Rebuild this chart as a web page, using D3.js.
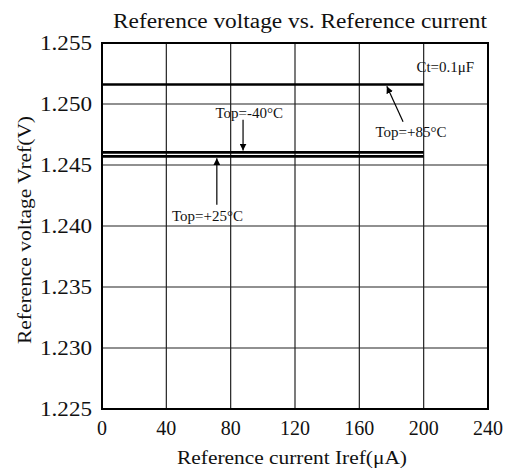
<!DOCTYPE html>
<html>
<head>
<meta charset="utf-8">
<script src="https://cdn.jsdelivr.net/npm/d3@7"></script>
<style>
  body { margin: 0; background: #fff; }
  text { font-family: "Liberation Serif", "Times New Roman", serif; fill: #111; }
</style>
</head>
<body>
<svg id="chart"></svg>
<script>
// Data
const xTicks = [0, 40, 80, 120, 160, 200, 240];
const yTicks = [1.225, 1.230, 1.235, 1.240, 1.245, 1.250, 1.255];
const currents = [0, 200];
const vTop85 = [1.2516, 1.2516];
const vTopM40 = [1.24604, 1.24604];
const vTop25 = [1.24570, 1.24570];

// Annotation labels and arrows (data units)
const labels = [
  { text: "Ct=0.1\u03bcF", x: 195.5, y: 1.25262 },
  { text: "Top=-40\u00b0C", x: 70.5, y: 1.24885 },
  { text: "Top=+85\u00b0C", x: 170, y: 1.24730 },
  { text: "Top=+25\u00b0C", x: 43.5, y: 1.24045 }
];
const arrows = [
  { x1: 87.7, y1: 1.24870, x2: 87.7, y2: 1.24618 },
  { x1: 71.4, y1: 1.24175, x2: 71.4, y2: 1.24556 },
  { x1: 187.2, y1: 1.24855, x2: 177.1, y2: 1.25145 }
];

// Set dimensions
const width = 507;
const height = 474;
const margin = { left: 102, right: 19, top: 43, bottom: 65 };

const svg = d3.select("#chart")
  .attr("width", width)
  .attr("height", height);

const x = d3.scaleLinear().domain([0, 240]).range([margin.left, width - margin.right]);
const y = d3.scaleLinear().domain([1.225, 1.255]).range([height - margin.bottom, margin.top]);

// Arrow head
svg.append("defs").append("marker")
  .attr("id", "head")
  .attr("viewBox", "0 0 10 10")
  .attr("refX", 10)
  .attr("refY", 5)
  .attr("markerWidth", 7)
  .attr("markerHeight", 7)
  .attr("markerUnits", "userSpaceOnUse")
  .attr("orient", "auto")
  .append("path")
  .attr("d", "M0,0 L10,5 L0,10 Z")
  .attr("fill", "#000");

// Grid lines
svg.append("g")
  .selectAll("line")
  .data(xTicks.slice(1, -1))
  .enter()
  .append("line")
  .attr("x1", d => x(d)).attr("x2", d => x(d))
  .attr("y1", y(1.225)).attr("y2", y(1.255))
  .attr("stroke", "#222")
  .attr("stroke-width", 1.2);

svg.append("g")
  .selectAll("line")
  .data(yTicks.slice(1, -1))
  .enter()
  .append("line")
  .attr("x1", x(0)).attr("x2", x(240))
  .attr("y1", d => y(d)).attr("y2", d => y(d))
  .attr("stroke", "#222")
  .attr("stroke-width", 1.2);

// Frame
svg.append("rect")
  .attr("x", x(0)).attr("y", y(1.255))
  .attr("width", x(240) - x(0))
  .attr("height", y(1.225) - y(1.255))
  .attr("fill", "none")
  .attr("stroke", "#000")
  .attr("stroke-width", 2);

// Data lines
const line = d3.line().x(d => x(d[0])).y(d => y(d[1]));
[vTop85, vTopM40, vTop25].forEach(vals => {
  svg.append("path")
    .attr("d", line(currents.map((c, i) => [c, vals[i]])))
    .attr("fill", "none")
    .attr("stroke", "#000")
    .attr("stroke-width", 2.7);
});

// Tick labels
svg.append("g")
  .selectAll("text")
  .data(xTicks)
  .enter()
  .append("text")
  .attr("x", d => x(d))
  .attr("y", y(1.225) + 26)
  .attr("text-anchor", "middle")
  .style("font-size", "20px")
  .text(d => d);

svg.append("g")
  .selectAll("text")
  .data(yTicks)
  .enter()
  .append("text")
  .attr("x", x(0) - 10)
  .attr("y", d => y(d) + 7)
  .attr("text-anchor", "end")
  .attr("textLength", 52)
  .attr("lengthAdjust", "spacingAndGlyphs")
  .style("font-size", "20px")
  .text(d => d.toFixed(3));

// Title and axis titles
svg.append("text")
  .attr("x", 300)
  .attr("y", 28)
  .attr("text-anchor", "middle")
  .attr("textLength", 374)
  .attr("lengthAdjust", "spacingAndGlyphs")
  .style("font-size", "20px")
  .text("Reference voltage vs. Reference current");

svg.append("text")
  .attr("x", 292)
  .attr("y", y(1.225) + 55)
  .attr("text-anchor", "middle")
  .attr("textLength", 230)
  .attr("lengthAdjust", "spacingAndGlyphs")
  .style("font-size", "19px")
  .text("Reference current Iref(\u03bcA)");

svg.append("text")
  .attr("transform", `translate(31, 230) rotate(-90)`)
  .attr("text-anchor", "middle")
  .attr("textLength", 228)
  .attr("lengthAdjust", "spacingAndGlyphs")
  .style("font-size", "19px")
  .text("Reference voltage Vref(V)");

// Annotations
svg.append("g")
  .selectAll("text")
  .data(labels)
  .enter()
  .append("text")
  .attr("x", d => x(d.x))
  .attr("y", d => y(d.y))
  .style("font-size", "15px")
  .text(d => d.text);

svg.append("g")
  .selectAll("line")
  .data(arrows)
  .enter()
  .append("line")
  .attr("x1", d => x(d.x1)).attr("y1", d => y(d.y1))
  .attr("x2", d => x(d.x2)).attr("y2", d => y(d.y2))
  .attr("stroke", "#000")
  .attr("stroke-width", 1.2)
  .attr("marker-end", "url(#head)");
</script>
</body>
</html>
